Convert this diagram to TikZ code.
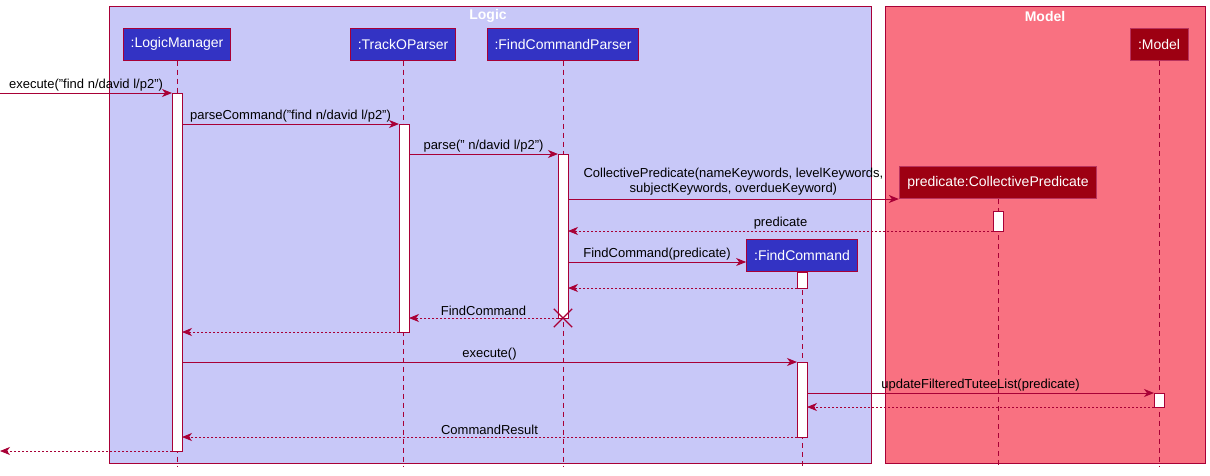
\documentclass[tikz,border=0pt]{standalone}
\usepackage{fontspec}
\setmainfont{Liberation Sans}
\usetikzlibrary{positioning,arrows.meta,shapes.misc}

\definecolor{umlred}{HTML}{A80036}
\definecolor{logicbg}{RGB}{200,200,248}
\definecolor{modelbg}{RGB}{249,113,129}
\definecolor{logicpartbg}{RGB}{51,51,196}
\definecolor{modelpartbg}{RGB}{157,0,18}

\begin{document}
\begin{tikzpicture}[
			x=1pt, y=-1pt,
			font=\fontsize{13}{15}\selectfont,
			% 两个大框(Logic 和 Model)
			logicframe/.style={rectangle, draw=umlred, fill=logicbg, line width=1pt, anchor=north west, inner sep=0pt},
			modelframe/.style={rectangle, draw=umlred, fill=modelbg, line width=1pt, anchor=north west, inner sep=0pt},
			frametitle/.style={text=white, font=\fontsize{14}{16}\selectfont\bfseries},
			% 参与者的长方形
			logicpart/.style={rectangle, draw=umlred, fill=logicpartbg, text=white, line width=1pt, minimum height=32pt, inner xsep=7.5pt, font=\fontsize{14}{16}\selectfont},
			modelpart/.style={rectangle, draw=umlred!80!white, fill=modelpartbg, text=white, line width=1pt, minimum height=32pt, inner xsep=8pt, font=\fontsize{14}{16}\selectfont},
			% 生命线和激活条
			lifeline/.style={draw=umlred, line width=0.8pt, dash pattern=on 5pt off 4pt},
			actbar/.style={rectangle, draw=umlred, fill=white, line width=1pt, minimum width=10pt, inner sep=0pt, outer sep=0pt, anchor=north},
			% 消息和返回
			call/.style={draw=umlred, line width=1pt, -{Stealth[length=10pt, width=8pt, inset=3pt]}},
			reply/.style={draw=umlred, line width=0.8pt, dash pattern=on 2pt off 2pt, -{Stealth[length=10pt, width=8pt, inset=3pt]}},
			msg/.style={midway, above, inner sep=1.5pt, text=black}
		]
		\useasboundingbox (0,0) rectangle (1210,475);

		%Frames
		\node[logicframe, minimum width=762pt, minimum height=457pt]   (logicbox)    at (109,6)      {};
		\node[modelframe, minimum width=320pt, minimum height=457pt]   (modelbox)    at (885,6)      {};
		\node[frametitle]      (logictitle)     at (488,16)                                 {Logic};
		\node[frametitle]      (modeltitle)     at (1045,16)                                {Model};

		%Participants
		\node[logicpart]       (lm)             at (177,44)                                 {:LogicManager};
		\node[logicpart]       (tp)             at (403,44)                                 {:TrackOParser};
		\node[logicpart]       (fp)             at (563,44)                                 {:FindCommandParser};
		\node[modelpart]       (model)          at (1159,44)                                {:Model};
		\node[modelpart]       (pred)           at (998,182.5)                              {predicate:CollectivePredicate};
		\node[logicpart]       (fc)             at (802,255.5)                              {:FindCommand};
		\coordinate            (bottom)         at (0,466);
		\coordinate            (in)             at (0,93);
		\coordinate            (out)            at (0,451);
		\coordinate            (fcin)           at ([yshift=-6.5pt]fc.west);

		%Lifelines
		\draw[lifeline] (lm.south)      --      (lm.south |- bottom);
		\draw[lifeline] (tp.south)      --      (tp.south |- bottom);
		\draw[lifeline] (fp.south)      --      (fp.south |- bottom);
		\draw[lifeline] (model.south)   --      (model.south |- bottom);
		\draw[lifeline] (pred.south)    --      (pred.south |- bottom);
		\draw[lifeline] (fc.south)      --      (fc.south |- bottom);

		%Activation bars
		\node[actbar, minimum height=358pt]    (actLM)     at (177,93)      {};
		\node[actbar, minimum height=208pt]    (actTP)     at (404,124)     {};
		\node[actbar, minimum height=164pt]    (actFP)     at (563,154)     {};
		\node[actbar, minimum height=20pt]     (actCP)     at (998,211)     {};
		\node[actbar, minimum height=16pt]     (actFC)     at (802,272)     {};
		\node[actbar, minimum height=75pt]     (actFC2)    at (802,362)     {};
		\node[actbar, minimum height=14pt]     (actM)      at (1159,393)    {};
		% 销毁 FindCommandParser
		\node[cross out, draw=umlred, line width=1.3pt, minimum size=17pt, inner sep=0pt] (fpx) at (actFP.south) {};

		%Lines
		\draw[call]  (in)                          --  (actLM.north west)
			node[msg] {execute("find n/david l/p2")};
		\draw[call]  (actLM.east |- actTP.north)   --  (actTP.north west)
			node[msg] {parseCommand("find n/david l/p2")};
		\draw[call]  (actTP.east |- actFP.north)   --  (actFP.north west)
			node[msg] {parse(" n/david l/p2")};
		\draw[call]  (actFP.east |- pred.south)    --  (pred.south west)
			node[msg, align=center, inner sep=3pt] {CollectivePredicate(nameKeywords, levelKeywords,\\subjectKeywords, overdueKeyword)};
		\draw[reply] (actCP.south west)            --  (actFP.east |- actCP.south)
			node[msg] {predicate};
		\draw[call]  (actFP.east |- fcin)          --  (fcin)
			node[msg] {FindCommand(predicate)};
		\draw[reply] (actFC.south west)            --  (actFP.east |- actFC.south);
		\draw[reply] (actFP.south west)            --  (actTP.east |- actFP.south)
			node[msg] {FindCommand};
		\draw[reply] (actTP.south west)            --  (actLM.east |- actTP.south);
		\draw[call]  (actLM.east |- actFC2.north)  --  (actFC2.north west)
			node[msg] {execute()};
		\draw[call]  (actFC2.east |- actM.north)   --  (actM.north west)
			node[msg] {updateFilteredTuteeList(predicate)};
		\draw[reply] (actM.south west)             --  (actFC2.east |- actM.south);
		\draw[reply] (actFC2.south west)           --  (actLM.east |- actFC2.south)
			node[msg] {CommandResult};
		\draw[reply] (actLM.south west)            --  (out);
	\end{tikzpicture}
\end{document}
